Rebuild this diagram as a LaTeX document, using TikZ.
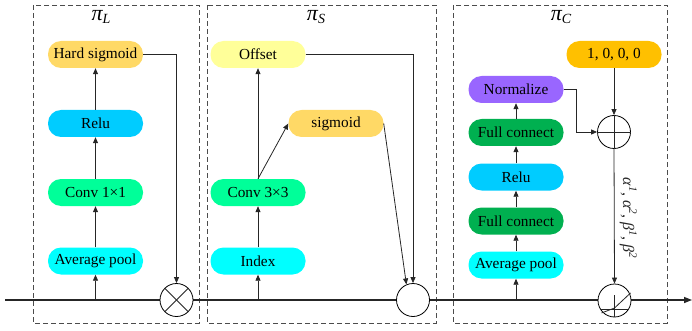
\documentclass[tikz,border=0pt]{standalone}
\usepackage{fontspec}
\setmainfont{Liberation Serif}
\usetikzlibrary{arrows.meta,calc}
\definecolor{hsfill}{HTML}{FFD966}
\definecolor{offfill}{HTML}{FFFF99}
\definecolor{onefill}{HTML}{FFC000}
\definecolor{relufill}{HTML}{00CCFF}
\definecolor{convfill}{HTML}{00FF99}
\definecolor{avgfill}{HTML}{00FFFF}
\definecolor{normfill}{HTML}{9966FF}
\definecolor{fcfill}{HTML}{00B050}
\begin{document}
\begin{tikzpicture}[x=1pt,y=-1pt,
  blk/.style={rounded corners=13pt, minimum width=95pt, minimum height=27pt, inner sep=0pt,
    font=\fontsize{15.3}{18}\selectfont, text=black},
  dbox/.style={draw=black!70, dash pattern=on 5pt off 3pt, line width=0.8pt},
  conn/.style={draw=black!85, line width=0.8pt, -{Triangle[length=6pt,width=5pt]}},
  wire/.style={draw=black!85, line width=0.8pt},
  mainl/.style={draw=black!85, line width=1.4pt, -{Triangle[length=8pt,width=6pt]}},
  opc/.style={circle, draw=black, line width=0.8pt, fill=white, minimum size=33pt, inner sep=0pt},
  ttl/.style={inner sep=0pt}
]
\useasboundingbox (0,0) rectangle (692,331);

% frames
\draw[dbox] (33,5) rectangle (199,323);
\draw[dbox] (207,5) rectangle (436,323);
\draw[dbox] (453,5) rectangle (667,323);

% titles
\node[ttl] (tL) at (101,17) {{\fontsize{22}{22}\selectfont\itshape π}\raisebox{-3pt}{\fontsize{14}{14}\selectfont\itshape L}};
\node[ttl] (tS) at (316,17) {{\fontsize{22}{22}\selectfont\itshape π}\raisebox{-3pt}{\fontsize{14}{14}\selectfont\itshape S}};
\node[ttl] (tC) at (561,17) {{\fontsize{22}{22}\selectfont\itshape π}\raisebox{-3pt}{\fontsize{14}{14}\selectfont\itshape C}};

% main line
\coordinate (in) at (5,300);
\coordinate (out) at (692,300);
\draw[mainl] (in) -- (out);

% Box L
\node[blk, fill=hsfill] (hs) at (95.5,54.5) {Hard sigmoid};
\node[blk, fill=relufill] (reluL) at (95.5,123.5) {Relu};
\node[blk, fill=convfill] (c1) at (95.5,192.5) {Conv 1×1};
\node[blk, fill=avgfill] (apL) at (95.5,261) {Average pool};
\node[opc] (mul) at (176.5,300) {};
\draw[wire] (mul.north west) -- (mul.south east);
\draw[wire] (mul.north east) -- (mul.south west);

\draw[conn] (apL |- in) -- (apL.south);
\draw[conn] (apL.north) -- (c1.south);
\draw[conn] (c1.north) -- (reluL.south);
\draw[conn] (reluL.north) -- (hs.south);
\draw[conn] (hs.east) -| (mul.north);

% Box S
\node[blk, fill=offfill] (off) at (258,54.5) {Offset};
\node[blk, fill=hsfill] (sig) at (336,123.5) {sigmoid};
\node[blk, fill=convfill] (c3) at (258,192.5) {Conv 3×3};
\node[blk, fill=avgfill] (idx) at (258,261) {Index};
\node[opc] (sum) at (413,300) {};

\draw[conn] (idx |- in) -- (idx.south);
\draw[conn] (idx.north) -- (c3.south);
\draw[conn] (c3.north) -- (off.south);
\draw[conn] (c3.north) -- (sig.west);
\draw[conn] (off.east) -| (sum.north);
\draw[conn] (sig.east) -- (sum.113);

% Box C
\node[blk, fill=onefill] (one) at (614,54.5) {1, 0, 0, 0};
\node[blk, fill=normfill] (norm) at (516,89.5) {Normalize};
\node[blk, fill=fcfill] (fc2) at (516,132.5) {Full connect};
\node[blk, fill=relufill] (reluC) at (516,177) {Relu};
\node[blk, fill=fcfill] (fc1) at (516,221) {Full connect};
\node[blk, fill=avgfill] (apC) at (516,265) {Average pool};
\node[opc] (add) at (614,132) {};
\draw[wire] (add.north) -- (add.south);
\draw[wire] (add.west) -- (add.east);
\node[opc] (act) at (614.5,300.5) {};
\draw[wire] ($(act.center)+(0,-5.5)$) -- (act.south);
\draw[wire] ($(act.center)+(-14,8.5)$) -- ($(act.center)+(14,8.5)$);
\draw[wire] ($(act.center)+(-13,12.5)$) -- ($(act.center)+(0,7.5)$) -- ($(act.center)+(16,-7.5)$);

\draw[conn] (apC |- in) -- (apC.south);
\draw[conn] (apC.north) -- (fc1.south);
\draw[conn] (fc1.north) -- (reluC.south);
\draw[conn] (reluC.north) -- (fc2.south);
\draw[conn] (fc2.north) -- (norm.south);
\draw[conn] (one.south) -- (add.north);
\draw[conn] (norm.east) -- ([xshift=13pt]norm.east) |- (add.west);
\draw[conn] (add.south) -- (act.north)
  node[pos=0.5, xshift=14pt, yshift=-2pt, rotate=-90, font=\fontsize{16}{18}\selectfont\itshape, text=black!85]
  {α\textsuperscript{1}, α\textsuperscript{2}, β\textsuperscript{1}, β\textsuperscript{2}};
\end{tikzpicture}
\end{document}
